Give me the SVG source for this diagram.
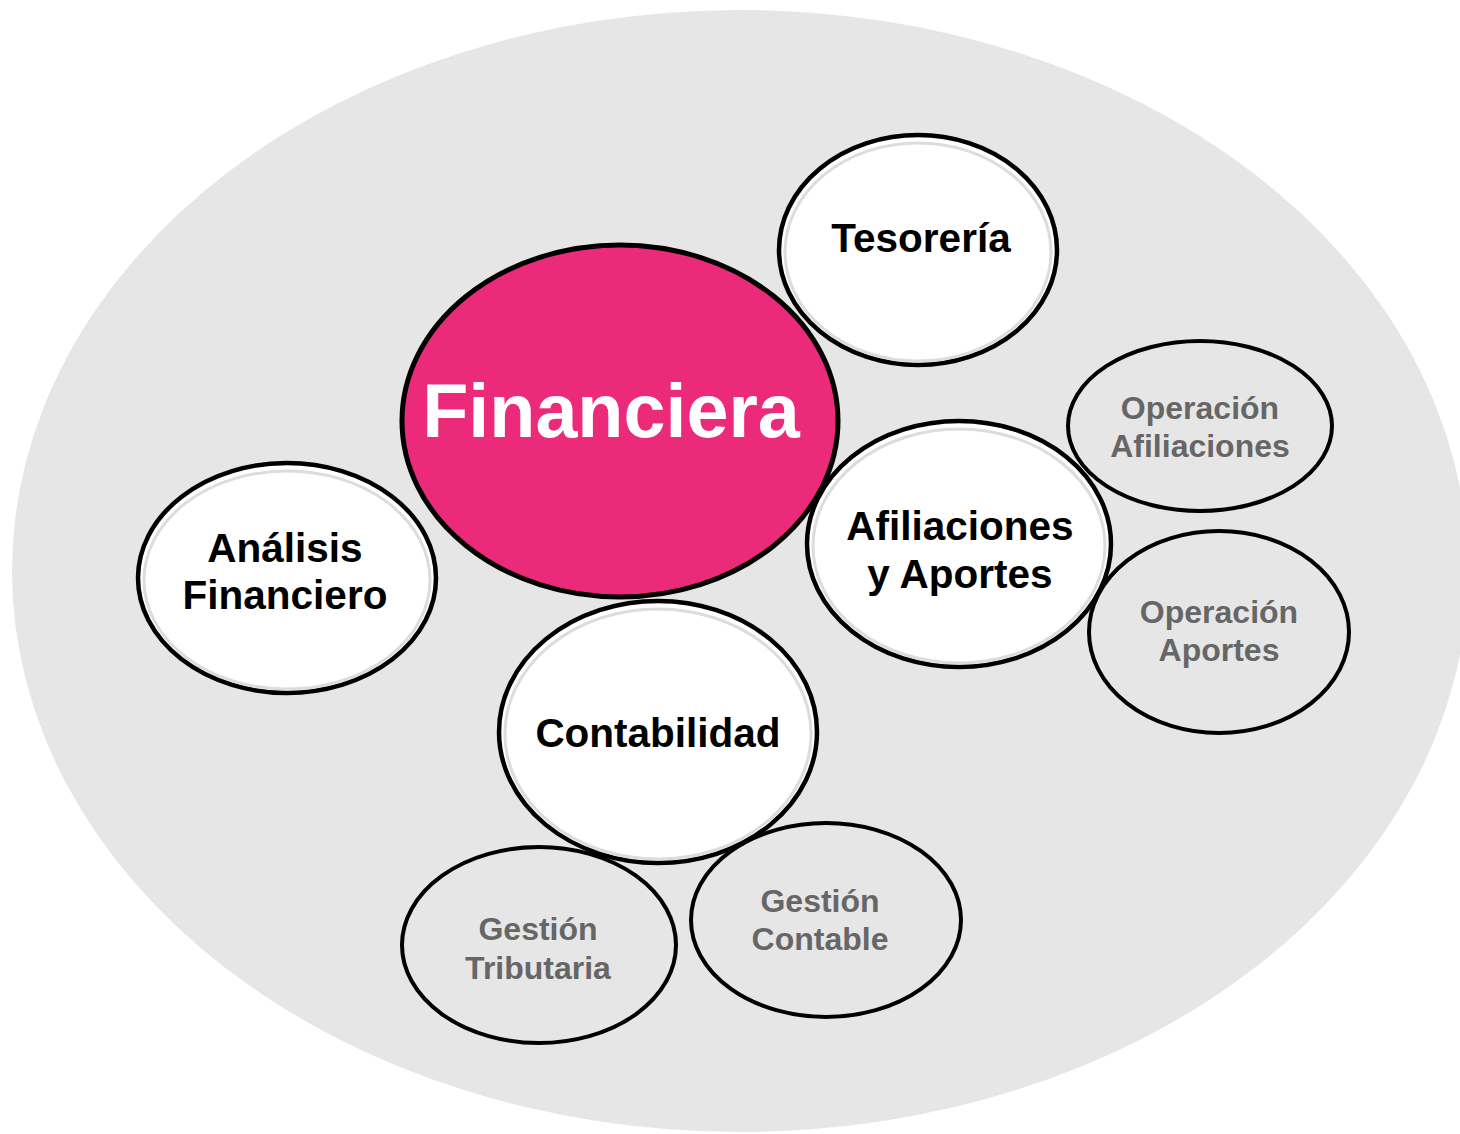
<svg xmlns="http://www.w3.org/2000/svg" width="1460" height="1134" viewBox="0 0 1460 1134">
<style>
.bg{fill:#e6e6e6}
.big{fill:#ffffff;stroke:#000;stroke-width:4.5}
.halo{fill:none;stroke:#dcdcdc;stroke-width:3}
.small{fill:none;stroke:#000;stroke-width:4}
.main{fill:#ec2a7a;stroke:#000;stroke-width:5}
text{font-family:"Liberation Sans",Arial,sans-serif;font-weight:bold;text-anchor:middle}
.t1{font-size:40.5px;fill:#000}
.t2{font-size:32px;fill:#666}
.t0{font-size:75.5px;fill:#fff}
</style>
<rect width="1460" height="1134" fill="#fff"/>
<ellipse class="bg" cx="740" cy="571" rx="728" ry="561"/>
<g id="connectors"></g>
<g id="op-afiliaciones">
<ellipse class="small" cx="1200" cy="426" rx="132" ry="85"/>
<text class="t2" x="1200" y="419">Operación</text>
<text class="t2" x="1200" y="457">Afiliaciones</text>
</g>
<g id="op-aportes">
<ellipse class="small" cx="1219" cy="632" rx="130" ry="101"/>
<text class="t2" x="1219" y="623">Operación</text>
<text class="t2" x="1219" y="661">Aportes</text>
</g>
<g id="gestion-tributaria">
<ellipse class="small" cx="539" cy="945" rx="137" ry="98"/>
<text class="t2" x="538" y="940">Gestión</text>
<text class="t2" x="538" y="979">Tributaria</text>
</g>
<g id="gestion-contable">
<ellipse class="small" cx="826" cy="920" rx="135" ry="97"/>
<text class="t2" x="820" y="912">Gestión</text>
<text class="t2" x="820" y="950">Contable</text>
</g>
<g id="tesoreria">
<ellipse class="big" cx="918" cy="250" rx="139" ry="115"/>
<ellipse class="halo" cx="918" cy="252" rx="133" ry="109"/>
<text class="t1" x="921" y="252">Tesorería</text>
</g>
<g id="analisis">
<ellipse class="big" cx="287" cy="578" rx="149" ry="115"/>
<ellipse class="halo" cx="287" cy="580" rx="143" ry="109"/>
<text class="t1" x="285" y="562">Análisis</text>
<text class="t1" x="285" y="609">Financiero</text>
</g>
<g id="afiliaciones-aportes">
<ellipse class="big" cx="959" cy="544" rx="152" ry="123"/>
<ellipse class="halo" cx="959" cy="546" rx="146" ry="117"/>
<text class="t1" x="960" y="540">Afiliaciones</text>
<text class="t1" x="960" y="588">y Aportes</text>
</g>
<g id="contabilidad">
<ellipse class="big" cx="658" cy="732" rx="159" ry="131"/>
<ellipse class="halo" cx="658" cy="734" rx="153" ry="125"/>
<text class="t1" x="658" y="747">Contabilidad</text>
</g>
<g id="financiera">
<ellipse class="main" cx="620" cy="421" rx="218" ry="176"/>
<text class="t0" x="611" y="437">Financiera</text>
</g>
</svg>
